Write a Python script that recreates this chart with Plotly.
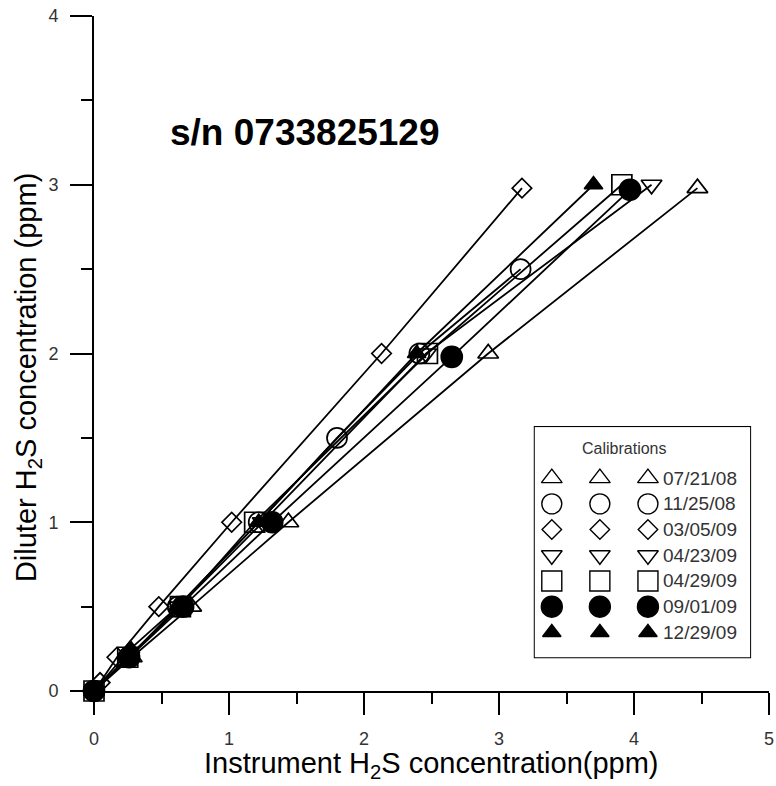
import plotly.graph_objects as go

# ---- data ----
cal_dates = ["07/21/08", "11/25/08", "03/05/09", "04/23/09", "04/29/09", "09/01/09", "12/29/09"]

x_072108 = [0, 0.28, 0.72, 1.44, 2.92, 4.47]
y_072108 = [0, 0.2, 0.5, 1, 2, 2.98]

x_112508 = [0, 0.26, 0.62, 1.22, 1.80, 2.41, 3.16]
y_112508 = [0, 0.2, 0.5, 1, 1.5, 2, 2.5]

x_030509 = [0.045, 0.17, 0.48, 1.02, 2.13, 3.17]
y_030509 = [0.05, 0.2, 0.5, 1, 2, 2.98]

x_042309 = [0, 0.26, 0.63, 1.25, 2.46, 4.13]
y_042309 = [0, 0.2, 0.5, 1, 2, 3]

x_042909 = [0, 0.25, 0.64, 1.19, 2.47, 3.91]
y_042909 = [0, 0.2, 0.5, 1, 2, 3]

x_090109 = [0, 0.26, 0.66, 1.32, 2.65, 3.97]
y_090109 = [0, 0.2, 0.5, 1, 1.98, 2.97]

x_122909 = [0, 0.27, 0.62, 1.22, 2.39, 3.70]
y_122909 = [0, 0.25, 0.5, 1, 2, 3]

series_x = [x_072108, x_112508, x_030509, x_042309, x_042909, x_090109, x_122909]
series_y = [y_072108, y_112508, y_030509, y_042309, y_042909, y_090109, y_122909]
symbols = ["triangle-up-open", "circle-open", "diamond-open", "triangle-down-open",
           "square-open", "circle", "triangle-up"]
sizes = [18, 20, 15, 18, 20, 21, 16]

x_ticks = [0, 1, 2, 3, 4, 5]
y_ticks = [0, 1, 2, 3, 4]

FONT = "Liberation Sans, Arial"

fig = go.Figure()

for xs, ys, sym, sz, name in zip(series_x, series_y, symbols, sizes, cal_dates):
    fig.add_trace(go.Scatter(
        x=xs, y=ys, mode="lines+markers", name=name, showlegend=False,
        cliponaxis=False,
        line=dict(color="black", width=1.8),
        marker=dict(symbol=sym, size=sz, color="black",
                    line=dict(color="black", width=1.7)),
    ))

# ---- legend drawn as a small overlay panel ----
for i, (sym, sz, name) in enumerate(zip(symbols, sizes, cal_dates)):
    fig.add_trace(go.Scatter(
        x=[0, 1, 2], y=[i, i, i], mode="markers", xaxis="x2", yaxis="y2",
        showlegend=False, hoverinfo="skip", cliponaxis=False,
        marker=dict(symbol=sym, size=sz, color="black",
                    line=dict(color="black", width=1.4)),
    ))
    fig.add_annotation(x=2.27, y=i, xref="x2", yref="y2", text=name,
                       showarrow=False, xanchor="left", yanchor="middle",
                       font=dict(family=FONT, size=19, color="#333"))

fig.add_annotation(x=1.5, y=-1.17, xref="x2", yref="y2", text="Calibrations",
                   showarrow=False, xanchor="center", yanchor="middle",
                   font=dict(family=FONT, size=16, color="#333"))

fig.add_shape(type="rect", xref="x2 domain", yref="y2 domain", x0=0, x1=1, y0=0, y1=1,
              line=dict(color="black", width=2), fillcolor="rgba(0,0,0,0)", layer="below")

fig.add_annotation(x=0.3126, y=0.828, xref="paper", yref="paper",
                   text="<b>s/n 0733825129</b>", showarrow=False,
                   xanchor="center", yanchor="middle",
                   font=dict(family=FONT, size=37, color="black"))

# axis titles
fig.add_annotation(x=0.5, y=-0.1096, xref="paper", yref="paper",
                   text="Instrument H<sub>2</sub>S concentration(ppm)", showarrow=False,
                   xanchor="center", yanchor="middle",
                   font=dict(family=FONT, size=29, color="black"))
fig.add_annotation(x=-0.0978, y=0.465, xref="paper", yref="paper",
                   text="Diluter H<sub>2</sub>S concentration (ppm)", showarrow=False,
                   textangle=-90, xanchor="center", yanchor="middle",
                   font=dict(family=FONT, size=29, color="black"))

tickfont = dict(family=FONT, size=18, color="#333")
axis_common = dict(showgrid=False, zeroline=False, automargin=False,
                   showline=True, linecolor="black", linewidth=2,
                   ticks="outside", ticklen=22, tickwidth=2, tickcolor="black",
                   ticklabelstandoff=8, ticklabeloverflow="allow", tickfont=tickfont,
                   minor=dict(dtick=0.5, ticks="outside", ticklen=11, tickwidth=2,
                              tickcolor="black", showgrid=False))
fig.update_layout(
    width=776, height=786,
    margin=dict(l=94, r=7, t=16, b=95, autoexpand=False),
    paper_bgcolor="white", plot_bgcolor="white",
    xaxis=dict(range=[0, 5], tickvals=x_ticks, **axis_common),
    yaxis=dict(range=[0, 4], tickvals=y_ticks, **axis_common),
    xaxis2=dict(domain=[0.653, 0.972], range=[-0.354, 4.125], anchor="y2",
                visible=False, fixedrange=True, automargin=False),
    yaxis2=dict(domain=[0.050, 0.391], range=[6.965, -1.984], anchor="x2",
                visible=False, fixedrange=True, automargin=False),
    showlegend=False,
)

fig.write_html("out.html",
               config={"displayModeBar": False},
               post_script="document.body.style.margin='0';document.body.style.overflow='hidden';")
